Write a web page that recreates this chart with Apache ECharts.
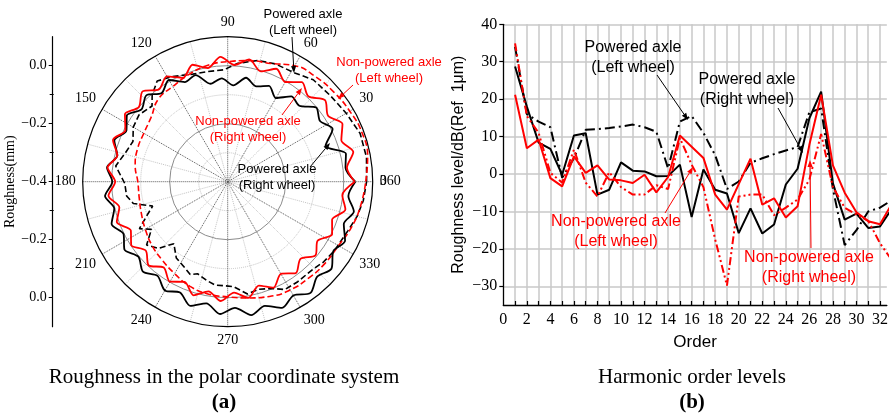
<!DOCTYPE html>
<html>
<head>
<meta charset="utf-8">
<script src="https://cdn.jsdelivr.net/npm/echarts@6/dist/echarts.min.js"></script>
<style>
html,body{margin:0;padding:0;background:#fff;}
#chart{width:891px;height:417px;}
</style>
</head>
<body>
<div id="chart"></div>
<script>
// ---------- (a) roughness around the wheel circumference (mm) ----------
// wavy profiles are sampled at alternating crests / valleys
const waveAngles = [0,6.7,13.3,20,26.7,33.3,40,46.7,53.3,60,66.7,73.3,80,86.7,93.3,100,106.7,113.3,120,126.7,
  133.3,140,146.7,153.3,160,166.7,173.3,180,186.7,193.3,200,206.7,213.3,220,226.7,233.3,240,246.7,253.3,260,
  266.7,273.3,280,286.7,293.3,300,306.7,313.3,320,326.7,333.3,340,346.7,353.3,360];

const poweredRightRough = [0.040,0.009,0.019,-0.041,0.005,-0.019,-0.002,-0.040,-0.033,-0.067,
  -0.040,-0.057,-0.036,-0.067,-0.043,-0.057,-0.016,-0.026,0.005,-0.019,
  0.009,-0.012,0.016,-0.009,0.016,-0.009,0.019,-0.002,0.026,0.002,
  0.026,0.002,0.026,0.002,0.026,0.005,0.033,0.016,0.047,0.026,
  0.057,0.036,0.067,0.047,0.074,0.053,0.078,0.050,0.067,0.036,
  0.053,0.026,0.047,0.019,0.040];

const nonPoweredRightRough = [0.038,0.014,0.045,0.017,0.043,0.014,0.038,0.005,0.028,-0.003,
  0.024,-0.003,0.028,0.003,0.031,-0.002,0.021,-0.010,0.019,-0.003,
  0.028,0.000,0.024,-0.005,0.021,-0.009,0.017,-0.012,0.014,-0.016,
  0.007,-0.026,-0.002,-0.031,-0.003,-0.031,-0.002,-0.024,0.009,-0.016,
  0.012,-0.017,0.007,-0.026,-0.002,-0.033,-0.007,-0.034,-0.005,-0.029,
  0.003,-0.017,0.017,-0.002,0.038];

const poweredLeftAngles = [0,10,20,30,40,50,58,68,76,85,92,100,108,118,125,131,135,143,150,157,
  164,172,181,188,193,198,202,208,212,218,224,229,236,242,248,252,258,263,268,273,
  280,286,292,298,305,314,320,327,338,345,352,360];
const poweredLeftRough = [0.079,0.086,0.086,0.072,0.062,0.059,0.041,0.038,0.031,0.010,
  -0.014,-0.014,-0.010,0.010,0.024,-0.003,-0.031,-0.017,-0.024,-0.045,
  -0.034,-0.010,-0.045,-0.048,-0.066,-0.128,-0.103,-0.055,-0.090,-0.045,
  -0.069,-0.117,-0.083,-0.072,-0.055,-0.066,-0.052,-0.041,-0.041,-0.038,
  -0.007,-0.014,-0.003,0.021,0.021,0.021,0.031,0.038,0.048,0.062,
  0.072,0.079];

const nonPoweredLeftAngles = [0,10,20,30,40,50,60,70,80,90,100,110,120,130,140,150,160,170,180,
  190,200,210,220,230,240,250,260,270,280,290,300,310,320,330,340,350,360];
const nonPoweredLeftRough = [0.076,0.090,0.093,0.086,0.079,0.072,0.062,0.034,0.024,0.014,
  0.007,-0.007,-0.021,-0.028,-0.055,-0.066,-0.069,-0.076,-0.090,
  -0.090,-0.083,-0.072,-0.059,-0.048,-0.034,-0.017,-0.007,-0.003,0.007,
  0.021,0.031,0.034,0.038,0.041,0.055,0.066,0.076];

const radialMajor = [-0.2, 0.0];          // solid rings
const radialMinor = [-0.3, -0.1];         // dotted rings
const angleMinor = [15,45,75,105,135,165,195,225,255,285,315,345];
const scaleMajor = [-0.4,-0.2,0,0.2,0.4]; // left roughness scale
const scaleMinor = [-0.3,-0.1,0.1,0.3];

// ---------- (b) harmonic order levels, dB re 1 um ----------
const orders = [1,2,3,4,5,6,7,8,9,10,11,12,13,14,15,16,17,18,19,20,21,22,23,24,25,26,27,28,29,30,31,32,33];
const poweredLeftLevel = [34,16,14,12.5,-1,4.2,11.8,12,12.3,12.7,13.2,12.5,11.3,1.5,14,15.5,
  11,5,-4,-2,3,4.2,5.3,6.3,7.2,16.5,17.5,-4,-19,-15,-10,-9,-7];
const poweredRightLevel = [28.7,18,8.4,6.7,-0.2,10.3,10.9,-5.5,-4.2,3.1,0.9,0.7,-0.6,-0.5,2.5,-11.5,
  1.2,-4.2,-5.2,-15.8,-9.2,-15.9,-13.5,-2.8,1.4,14.9,22,-2.5,-12.2,-10.6,-14.4,-14,-9.3];
const nonPoweredLeftLevel = [34.9,15.5,11,0.3,-2.3,6.5,-2.3,-6,0.5,-3.5,-5.5,-5.5,-3,-4,9.6,2.5,
  -3.5,-17.5,-29.8,-6,-5.5,-5.5,-11,-9,-6.8,-1.5,10.7,-3.5,-9,-10.8,-12.5,-18.5,-23];
const nonPoweredRightLevel = [21.2,6.9,9.2,-1.1,-3.3,4.7,0.3,2.3,-1.5,-1.7,-2.4,-0.2,-4.9,-0.8,10.3,7.3,
  4.3,-5.5,-9.5,-2.7,4.1,-8.2,-6.5,-11.6,-8.6,7.8,21.2,2.3,-5,-10.2,-12.6,-13.4,-8];
const levelTicks = [-30,-20,-10,0,10,20,30,40];
const orderTicks = [1,2,3,4,5,6,7,8,9,10,11,12,13,14,15,16,17,18,19,20,21,22,23,24,25,26,27,28,29,30,31,32];
const orderLabels = [0,2,4,6,8,10,12,14,16,18,20,22,24,26,28,30,32];

const SERIF = '"Liberation Serif","Times New Roman",serif';
const SANS = '"Liberation Sans",Arial,sans-serif';
const minus = s => String(s).replace('-', '\u2212');

const zipPolar = (rough, ang) => rough.map((r, i) => [r, ang[i]]);
const zipXY = (xs, ys) => xs.map((x, i) => [x, ys[i]]);

function arrow(x1, y1, x2, y2, color) {
  const a = Math.atan2(y2 - y1, x2 - x1), L = 7, W = 2.6;
  const bx = x2 - L * Math.cos(a), by = y2 - L * Math.sin(a);
  return [
    {type: 'line', shape: {x1: x1, y1: y1, x2: bx, y2: by}, style: {stroke: color, lineWidth: 1}, z: 50},
    {type: 'polygon', shape: {points: [[x2, y2], [bx - W * Math.sin(a), by + W * Math.cos(a)], [bx + W * Math.sin(a), by - W * Math.cos(a)]]},
     style: {fill: color}, z: 50}
  ];
}
function note(x, y, text, color, size, lh) {
  return {type: 'text', x: x, y: y, z: 50,
    style: {text: text, fill: color, font: size + 'px ' + SANS, align: 'center', verticalAlign: 'middle', lineHeight: lh}};
}
function caption(x, y, text, bold) {
  return {type: 'text', x: x, y: y, z: 50,
    style: {text: text, fill: '#000', font: (bold ? 'bold ' : '') + '21px ' + SERIF, align: 'center', verticalAlign: 'middle'}};
}

const chart = echarts.init(document.getElementById('chart'), null, {renderer: 'canvas'});

const option = {
  animation: false,
  backgroundColor: '#fff',
  polar: [
    {center: [227.7, 181.7], radius: 145},
    {center: [227.7, 181.7], radius: 145}
  ],
  angleAxis: [
    {polarIndex: 0, type: 'value', min: 0, max: 360, interval: 30, startAngle: 0, clockwise: false, z: 3,
     axisLine: {lineStyle: {color: '#000', width: 1.2}},
     axisTick: {show: false},
     axisLabel: {color: '#000', fontFamily: SERIF, fontSize: 14, margin: 7},
     splitLine: {lineStyle: {color: '#555', type: 'dotted', width: 1}}},
    // light spokes between the main ones; the full-turn mark shares the 0 position
    {polarIndex: 1, type: 'value', min: 0, max: 360, startAngle: 0, clockwise: false, z: 1,
     axisLine: {show: false},
     axisTick: {show: false, customValues: angleMinor},
     axisLabel: {show: true, customValues: [0], formatter: () => '360',
       color: '#000', fontFamily: SERIF, fontSize: 14, margin: 7},
     splitLine: {lineStyle: {color: '#c4c4c4', type: 'dotted', width: 1}}}
  ],
  radiusAxis: [
    {polarIndex: 0, type: 'value', min: -0.4, max: 0.1, z: 2,
     axisLine: {show: false}, axisLabel: {show: false},
     axisTick: {show: false, customValues: radialMajor},
     splitLine: {lineStyle: {color: '#8c8c8c', width: 1}}},
    {polarIndex: 1, type: 'value', min: -0.4, max: 0.1, z: 1,
     axisLine: {show: false}, axisLabel: {show: false},
     axisTick: {show: false, customValues: radialMinor},
     splitLine: {lineStyle: {color: '#c4c4c4', type: 'dotted', width: 1}}}
  ],
  grid: [
    {left: 52.7, top: 36.7, width: 1, height: 290},
    {left: 503.3, top: 24.3, right: 0, bottom: 112}
  ],
  xAxis: [
    {gridIndex: 0, type: 'value', show: false, min: 0, max: 1},
    {gridIndex: 1, type: 'value', min: 0, max: 32.58,
     axisLine: {onZero: false, lineStyle: {color: '#000', width: 1.3}},
     axisTick: {inside: true, length: 4, customValues: orderTicks, lineStyle: {color: '#000', width: 1.2}},
     axisLabel: {customValues: orderLabels, color: '#000', fontFamily: SERIF, fontSize: 16, margin: 7},
     splitLine: {show: true, lineStyle: {color: '#c8c8c8', width: 1.5}},
     name: 'Order', nameLocation: 'middle', nameGap: 29,
     nameTextStyle: {color: '#000', fontFamily: SANS, fontSize: 17}}
  ],
  yAxis: [
    {gridIndex: 0, type: 'value', min: -0.5, max: 0.5,
     axisLine: {lineStyle: {color: '#000', width: 1.2}},
     axisTick: {length: 4, customValues: scaleMajor, lineStyle: {color: '#000'}},
     axisLabel: {customValues: scaleMajor, color: '#000', fontFamily: SERIF, fontSize: 14, margin: 6,
       formatter: v => minus((Math.round((Math.abs(v) - 0.4) * 10) / 10).toFixed(1))},
     splitLine: {show: false},
     name: 'Roughness(mm)', nameLocation: 'middle', nameGap: 33,
     nameTextStyle: {color: '#000', fontFamily: SERIF, fontSize: 14}},
    {gridIndex: 0, type: 'value', min: -0.5, max: 0.5,
     axisLine: {show: false},
     axisTick: {inside: true, length: 4, customValues: scaleMinor, lineStyle: {color: '#000'}},
     axisLabel: {show: false}, splitLine: {show: false}},
    {gridIndex: 1, type: 'value', min: -35, max: 40,
     axisLine: {onZero: false, lineStyle: {color: '#000', width: 1.3}},
     axisTick: {length: 4, customValues: levelTicks, lineStyle: {color: '#000', width: 1.2}},
     axisLabel: {customValues: levelTicks, color: '#000', fontFamily: SERIF, fontSize: 16, margin: 6,
       formatter: v => minus(v)},
     splitLine: {show: true, lineStyle: {color: '#c8c8c8', width: 1.5}},
     name: 'Roughness level/dB(Ref  1\u03bcm)', nameLocation: 'middle', nameGap: 37,
     nameTextStyle: {color: '#000', fontFamily: SANS, fontSize: 16}}
  ],
  series: [
    {name: 'Powered axle (Left wheel)', type: 'line', coordinateSystem: 'polar', polarIndex: 0,
     data: zipPolar(poweredLeftRough, poweredLeftAngles), symbol: 'none', smooth: false,
     lineStyle: {color: '#000', width: 1.6, type: [6, 3]}},
    {name: 'Non-powered axle (Left wheel)', type: 'line', coordinateSystem: 'polar', polarIndex: 0,
     data: zipPolar(nonPoweredLeftRough, nonPoweredLeftAngles), symbol: 'none', smooth: true,
     lineStyle: {color: '#ff0000', width: 1.6, type: [6, 3]}},
    {name: 'Powered axle (Right wheel)', type: 'line', coordinateSystem: 'polar', polarIndex: 0,
     data: zipPolar(poweredRightRough, waveAngles), symbol: 'none', smooth: 0.28,
     lineStyle: {color: '#000', width: 1.8}},
    {name: 'Non-powered axle (Right wheel)', type: 'line', coordinateSystem: 'polar', polarIndex: 0,
     data: zipPolar(nonPoweredRightRough, waveAngles), symbol: 'none', smooth: 0.28,
     lineStyle: {color: '#ff0000', width: 1.8}},

    {name: 'Powered axle (Left wheel)', type: 'line', xAxisIndex: 1, yAxisIndex: 2,
     data: zipXY(orders, poweredLeftLevel), symbol: 'none',
     lineStyle: {color: '#000', width: 2, type: [10, 4, 2, 4]}},
    {name: 'Powered axle (Right wheel)', type: 'line', xAxisIndex: 1, yAxisIndex: 2,
     data: zipXY(orders, poweredRightLevel), symbol: 'none',
     lineStyle: {color: '#000', width: 2}},
    {name: 'Non-powered axle (Left wheel)', type: 'line', xAxisIndex: 1, yAxisIndex: 2,
     data: zipXY(orders, nonPoweredLeftLevel), symbol: 'none',
     lineStyle: {color: '#ff0000', width: 2, type: [8, 3, 2, 3, 2, 3]}},
    {name: 'Non-powered axle (Right wheel)', type: 'line', xAxisIndex: 1, yAxisIndex: 2,
     data: zipXY(orders, nonPoweredRightLevel), symbol: 'none',
     lineStyle: {color: '#ff0000', width: 2}}
  ],
  graphic: [
    note(303, 22, 'Powered axle\n(Left wheel)', '#000', 13, 16),
    ...arrow(292, 37, 294, 73, '#000'),
    note(389, 70, 'Non-powered axle\n(Left wheel)', '#ff0000', 13, 16),
    ...arrow(353, 85, 338, 99, '#ff0000'),
    note(248, 129.5, 'Non-powered axle\n(Right wheel)', '#ff0000', 13, 16),
    ...arrow(282, 115, 302, 88, '#ff0000'),
    note(277, 177, 'Powered axle\n(Right wheel)', '#000', 13, 16),
    ...arrow(310, 167, 330, 143, '#000'),

    note(633, 58, 'Powered axle\n(Left wheel)', '#000', 16, 20),
    ...arrow(657, 75, 688, 120, '#000'),
    note(747, 89.5, 'Powered axle\n(Right wheel)', '#000', 16, 20),
    ...arrow(778, 108, 803, 153, '#000'),
    note(616, 231.5, 'Non-powered axle\n(Left wheel)', '#ff0000', 16, 20),
    ...arrow(665, 213, 693, 167, '#ff0000'),
    note(809, 268, 'Non-powered axle\n(Right wheel)', '#ff0000', 16, 20),
    ...arrow(811, 248, 810, 160, '#ff0000'),

    caption(224, 377, 'Roughness in the polar coordinate system', false),
    caption(224, 403, '(a)', true),
    caption(692, 377, 'Harmonic order levels', false),
    caption(692, 403, '(b)', true)
  ]
};
chart.setOption(option);
</script>
</body>
</html>
